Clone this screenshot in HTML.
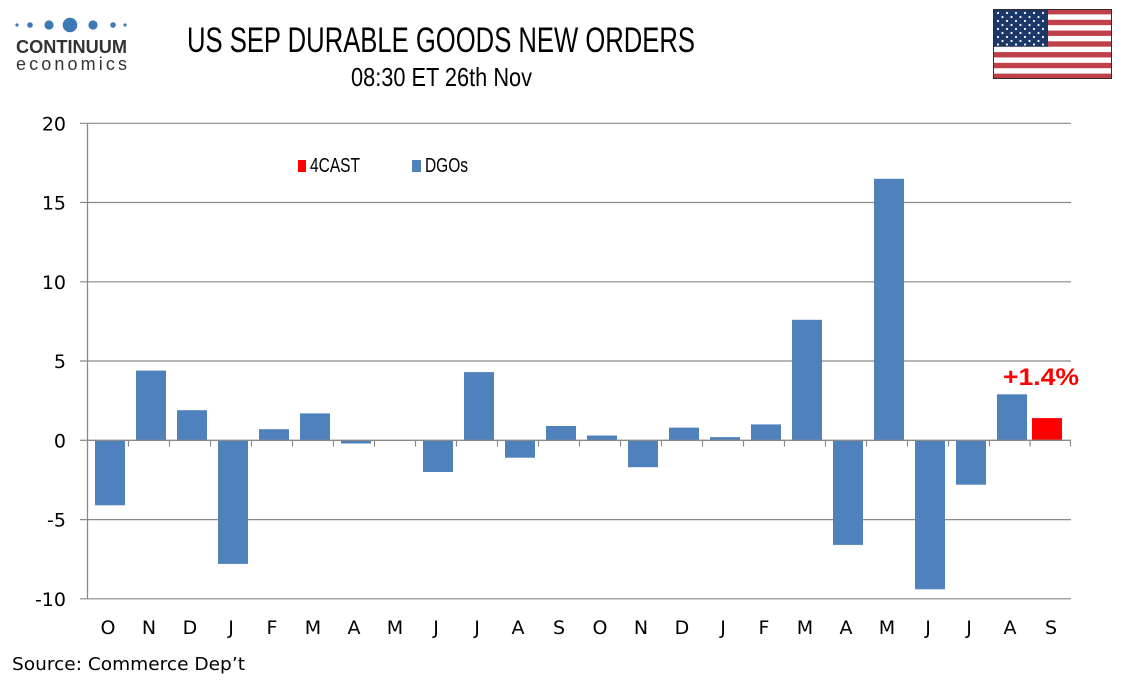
<!DOCTYPE html>
<html>
<head>
<meta charset="utf-8">
<style>
  html,body{margin:0;padding:0;background:#fff;}
  svg{display:block;}
</style>
</head>
<body>
<svg width="1134" height="680" viewBox="0 0 1134 680" xmlns="http://www.w3.org/2000/svg">
  <rect x="0" y="0" width="1134" height="680" fill="#ffffff"/>

  <!-- Logo -->
  <g fill="#3d7ab5">
    <circle cx="17" cy="25" r="1.6"/>
    <circle cx="30" cy="25" r="2.8"/>
    <circle cx="49" cy="25" r="4.6"/>
    <circle cx="70" cy="25" r="7.3"/>
    <circle cx="93" cy="25" r="4.6"/>
    <circle cx="113" cy="25" r="2.8"/>
    <circle cx="125" cy="25" r="1.6"/>
  </g>
  <text x="16" y="53" font-family="Liberation Sans, sans-serif" font-weight="bold" font-size="18" fill="#333" textLength="111" lengthAdjust="spacingAndGlyphs">CONTINUUM</text>
  <text x="16" y="70" font-family="Liberation Sans, sans-serif" font-size="18" fill="#333" textLength="111" lengthAdjust="spacing">economics</text>

  <!-- Titles -->
  <text x="187" y="52" font-family="Liberation Sans, sans-serif" font-size="35" fill="#000" textLength="508" lengthAdjust="spacingAndGlyphs">US SEP DURABLE GOODS NEW ORDERS</text>
  <text x="351" y="86" font-family="Liberation Sans, sans-serif" font-size="26" fill="#000" textLength="181" lengthAdjust="spacingAndGlyphs">08:30 ET 26th Nov</text>

  <!-- Flag -->
  <g>
    <rect x="993" y="9" width="119" height="70" fill="#ffffff"/>
    <g fill="#c0404a">
      <rect x="993" y="9" width="119" height="5.38"/>
      <rect x="993" y="19.77" width="119" height="5.38"/>
      <rect x="993" y="30.54" width="119" height="5.38"/>
      <rect x="993" y="41.31" width="119" height="5.38"/>
      <rect x="993" y="52.08" width="119" height="5.38"/>
      <rect x="993" y="62.85" width="119" height="5.38"/>
      <rect x="993" y="73.62" width="119" height="5.38"/>
    </g>
    <rect x="993" y="9" width="55" height="37.7" fill="#1c3868"/>
    <g fill="#ffffff">
      <circle cx="998" cy="13" r="1.1"/><circle cx="1007" cy="13" r="1.1"/><circle cx="1016" cy="13" r="1.1"/><circle cx="1025" cy="13" r="1.1"/><circle cx="1034" cy="13" r="1.1"/><circle cx="1043" cy="13" r="1.1"/>
      <circle cx="1002.5" cy="17" r="1.1"/><circle cx="1011.5" cy="17" r="1.1"/><circle cx="1020.5" cy="17" r="1.1"/><circle cx="1029.5" cy="17" r="1.1"/><circle cx="1038.5" cy="17" r="1.1"/>
      <circle cx="998" cy="21" r="1.1"/><circle cx="1007" cy="21" r="1.1"/><circle cx="1016" cy="21" r="1.1"/><circle cx="1025" cy="21" r="1.1"/><circle cx="1034" cy="21" r="1.1"/><circle cx="1043" cy="21" r="1.1"/>
      <circle cx="1002.5" cy="25" r="1.1"/><circle cx="1011.5" cy="25" r="1.1"/><circle cx="1020.5" cy="25" r="1.1"/><circle cx="1029.5" cy="25" r="1.1"/><circle cx="1038.5" cy="25" r="1.1"/>
      <circle cx="998" cy="29" r="1.1"/><circle cx="1007" cy="29" r="1.1"/><circle cx="1016" cy="29" r="1.1"/><circle cx="1025" cy="29" r="1.1"/><circle cx="1034" cy="29" r="1.1"/><circle cx="1043" cy="29" r="1.1"/>
      <circle cx="1002.5" cy="33" r="1.1"/><circle cx="1011.5" cy="33" r="1.1"/><circle cx="1020.5" cy="33" r="1.1"/><circle cx="1029.5" cy="33" r="1.1"/><circle cx="1038.5" cy="33" r="1.1"/>
      <circle cx="998" cy="37" r="1.1"/><circle cx="1007" cy="37" r="1.1"/><circle cx="1016" cy="37" r="1.1"/><circle cx="1025" cy="37" r="1.1"/><circle cx="1034" cy="37" r="1.1"/><circle cx="1043" cy="37" r="1.1"/>
      <circle cx="1002.5" cy="41" r="1.1"/><circle cx="1011.5" cy="41" r="1.1"/><circle cx="1020.5" cy="41" r="1.1"/><circle cx="1029.5" cy="41" r="1.1"/><circle cx="1038.5" cy="41" r="1.1"/>
      <circle cx="998" cy="44.5" r="1.1"/><circle cx="1007" cy="44.5" r="1.1"/><circle cx="1016" cy="44.5" r="1.1"/><circle cx="1025" cy="44.5" r="1.1"/><circle cx="1034" cy="44.5" r="1.1"/><circle cx="1043" cy="44.5" r="1.1"/>
    </g>
    <rect x="993.5" y="9.5" width="118" height="69" fill="none" stroke="#3a2a2a" stroke-width="1"/>
  </g>

  <!-- Gridlines -->
  <g stroke="#898989" stroke-width="1.2">
    <line x1="80" y1="123.3" x2="1071" y2="123.3"/>
    <line x1="80" y1="202.5" x2="1071" y2="202.5"/>
    <line x1="80" y1="281.8" x2="1071" y2="281.8"/>
    <line x1="80" y1="361" x2="1071" y2="361"/>
    <line x1="80" y1="519.6" x2="1071" y2="519.6"/>
    <line x1="80" y1="598.8" x2="1071" y2="598.8"/>
  </g>

  <!-- Y labels -->
  <g font-family="DejaVu Sans, Liberation Sans, sans-serif" font-size="19" fill="#000" text-anchor="end">
    <text x="66" y="130.3">20</text>
    <text x="66" y="209.5">15</text>
    <text x="66" y="288.8">10</text>
    <text x="66" y="368">5</text>
    <text x="66" y="447.3">0</text>
    <text x="66" y="526.6">-5</text>
    <text x="66" y="605.8">-10</text>
  </g>

  <!-- Bars -->
  <g fill="#4f81bd">
    <rect x="95" y="440.3" width="30" height="65.0"/>
    <rect x="136" y="370.6" width="30" height="69.7"/>
    <rect x="177" y="410.2" width="30" height="30.1"/>
    <rect x="218" y="440.3" width="30" height="123.6"/>
    <rect x="259" y="429.2" width="30" height="11.1"/>
    <rect x="300" y="413.4" width="30" height="26.9"/>
    <rect x="341" y="440.3" width="30" height="3.2"/>
    <rect x="423" y="440.3" width="30" height="31.7"/>
    <rect x="464" y="372.1" width="30" height="68.2"/>
    <rect x="505" y="440.3" width="30" height="17.4"/>
    <rect x="546" y="426.0" width="30" height="14.3"/>
    <rect x="587" y="435.5" width="30" height="4.8"/>
    <rect x="628" y="440.3" width="30" height="26.9"/>
    <rect x="669" y="427.6" width="30" height="12.7"/>
    <rect x="710" y="437.1" width="30" height="3.2"/>
    <rect x="751" y="424.4" width="30" height="15.9"/>
    <rect x="792" y="319.8" width="30" height="120.5"/>
    <rect x="833" y="440.3" width="30" height="104.6"/>
    <rect x="874" y="178.8" width="30" height="261.5"/>
    <rect x="915" y="440.3" width="30" height="149.0"/>
    <rect x="956" y="440.3" width="30" height="44.4"/>
    <rect x="997" y="394.3" width="30" height="46.0"/>
  </g>
  <rect x="1032" y="418.1" width="30" height="22.2" fill="#ff0000"/>

  <!-- Axes -->
  <g stroke="#898989" stroke-width="1.3">
    <line x1="87.5" y1="123.3" x2="87.5" y2="598.8"/>
    <line x1="87.5" y1="440.3" x2="1071" y2="440.3"/>
    <line x1="80" y1="440.3" x2="87.5" y2="440.3"/>
  </g>
  <g stroke="#898989" stroke-width="1.2">
    <line x1="128.5" y1="440.3" x2="128.5" y2="446.5"/>
    <line x1="169.5" y1="440.3" x2="169.5" y2="446.5"/>
    <line x1="210.5" y1="440.3" x2="210.5" y2="446.5"/>
    <line x1="251.5" y1="440.3" x2="251.5" y2="446.5"/>
    <line x1="292.5" y1="440.3" x2="292.5" y2="446.5"/>
    <line x1="333.5" y1="440.3" x2="333.5" y2="446.5"/>
    <line x1="374.5" y1="440.3" x2="374.5" y2="446.5"/>
    <line x1="415.5" y1="440.3" x2="415.5" y2="446.5"/>
    <line x1="456.5" y1="440.3" x2="456.5" y2="446.5"/>
    <line x1="497.5" y1="440.3" x2="497.5" y2="446.5"/>
    <line x1="538.5" y1="440.3" x2="538.5" y2="446.5"/>
    <line x1="579.5" y1="440.3" x2="579.5" y2="446.5"/>
    <line x1="620.5" y1="440.3" x2="620.5" y2="446.5"/>
    <line x1="661.5" y1="440.3" x2="661.5" y2="446.5"/>
    <line x1="702.5" y1="440.3" x2="702.5" y2="446.5"/>
    <line x1="743.5" y1="440.3" x2="743.5" y2="446.5"/>
    <line x1="784.5" y1="440.3" x2="784.5" y2="446.5"/>
    <line x1="825.5" y1="440.3" x2="825.5" y2="446.5"/>
    <line x1="866.5" y1="440.3" x2="866.5" y2="446.5"/>
    <line x1="907.5" y1="440.3" x2="907.5" y2="446.5"/>
    <line x1="948.5" y1="440.3" x2="948.5" y2="446.5"/>
    <line x1="989.5" y1="440.3" x2="989.5" y2="446.5"/>
    <line x1="1030" y1="440.3" x2="1030" y2="446.5"/>
    <line x1="1070.5" y1="440.3" x2="1070.5" y2="446.5"/>
  </g>

  <!-- X labels -->
  <g font-family="DejaVu Sans, Liberation Sans, sans-serif" font-size="19" fill="#000" text-anchor="middle">
    <text x="108" y="634">O</text>
    <text x="149" y="634">N</text>
    <text x="190" y="634">D</text>
    <text x="231" y="634">J</text>
    <text x="272" y="634">F</text>
    <text x="313" y="634">M</text>
    <text x="354" y="634">A</text>
    <text x="395" y="634">M</text>
    <text x="436" y="634">J</text>
    <text x="477" y="634">J</text>
    <text x="518" y="634">A</text>
    <text x="559" y="634">S</text>
    <text x="600" y="634">O</text>
    <text x="641" y="634">N</text>
    <text x="682" y="634">D</text>
    <text x="723" y="634">J</text>
    <text x="764" y="634">F</text>
    <text x="805" y="634">M</text>
    <text x="846" y="634">A</text>
    <text x="887" y="634">M</text>
    <text x="928" y="634">J</text>
    <text x="969" y="634">J</text>
    <text x="1010" y="634">A</text>
    <text x="1051" y="634">S</text>
  </g>

  <!-- Legend -->
  <rect x="298" y="160" width="8" height="12" fill="#ff0000"/>
  <text x="310" y="172" font-family="Liberation Sans, sans-serif" font-size="20" fill="#000" textLength="50" lengthAdjust="spacingAndGlyphs">4CAST</text>
  <rect x="412" y="160" width="9" height="12" fill="#4f81bd"/>
  <text x="425" y="172" font-family="Liberation Sans, sans-serif" font-size="20" fill="#000" textLength="43" lengthAdjust="spacingAndGlyphs">DGOs</text>

  <!-- Forecast label -->
  <text x="1003" y="385" font-family="Liberation Sans, sans-serif" font-weight="bold" font-size="24" fill="#ff0000" textLength="76" lengthAdjust="spacingAndGlyphs">+1.4%</text>

  <!-- Source -->
  <text x="12" y="670" font-family="DejaVu Sans, Liberation Sans, sans-serif" font-size="18" fill="#000" textLength="233" lengthAdjust="spacingAndGlyphs">Source: Commerce Dep’t</text>
</svg>
</body>
</html>
